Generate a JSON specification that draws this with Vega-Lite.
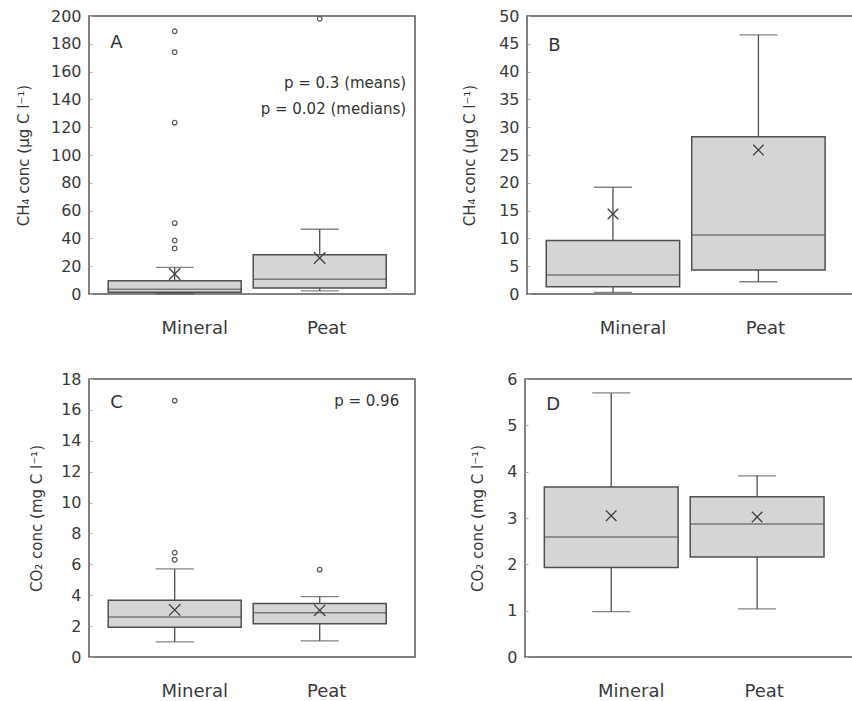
{
  "$schema": "https://vega.github.io/schema/vega-lite/v6.json",
  "padding": {"left": 15, "top": 7, "right": 0, "bottom": 0},
  "background": "white",
  "config": {
    "font": "DejaVu Sans",
    "view": {"stroke": "#585858", "strokeWidth": 1.5},
    "axis": {"domain": false, "grid": false, "labelColor": "#3a3a3a", "titleColor": "#3a3a3a", "titleFontWeight": "normal", "labelFont": "DejaVu Sans", "titleFont": "DejaVu Sans"},
    "axisY": {"labelFontSize": 16, "titleFontSize": 15, "tickSize": -3, "tickColor": "#b0b0b0", "labelPadding": 11, "labelOverlap": false, "labelAlign": "right"},
    "axisX": {"labelFontSize": 18, "ticks": false, "labelPadding": 25, "labelAngle": 0, "labelOffset": {"condition": {"test": "datum.value === 'Mineral'", "value": 20}, "value": 7}},
    "text": {"font": "DejaVu Sans", "color": "#333333"}
  },
  "datasets": {
    "boxes": [
      {"gas": "CH4", "group": "Mineral", "lower": 0.3, "q1": 1.3, "median": 3.4, "q3": 9.6, "upper": 19.2, "mean": 14.4},
      {"gas": "CH4", "group": "Peat", "lower": 2.2, "q1": 4.3, "median": 10.6, "q3": 28.3, "upper": 46.6, "mean": 25.9},
      {"gas": "CO2", "group": "Mineral", "lower": 0.98, "q1": 1.93, "median": 2.59, "q3": 3.67, "upper": 5.7, "mean": 3.05},
      {"gas": "CO2", "group": "Peat", "lower": 1.04, "q1": 2.16, "median": 2.87, "q3": 3.46, "upper": 3.91, "mean": 3.02}
    ],
    "outliers": [
      {"gas": "CH4", "group": "Mineral", "value": 189},
      {"gas": "CH4", "group": "Mineral", "value": 174},
      {"gas": "CH4", "group": "Mineral", "value": 123.3},
      {"gas": "CH4", "group": "Mineral", "value": 51},
      {"gas": "CH4", "group": "Mineral", "value": 38.5},
      {"gas": "CH4", "group": "Mineral", "value": 32.8},
      {"gas": "CH4", "group": "Peat", "value": 198},
      {"gas": "CO2", "group": "Mineral", "value": 16.6},
      {"gas": "CO2", "group": "Mineral", "value": 6.75},
      {"gas": "CO2", "group": "Mineral", "value": 6.3},
      {"gas": "CO2", "group": "Peat", "value": 5.66}
    ],
    "notes": [
      {"panel": "A", "kind": "letter", "text": "A"},
      {"panel": "A", "kind": "p", "text": ["p = 0.3 (means)", "p = 0.02 (medians)"]},
      {"panel": "B", "kind": "letter", "text": "B"},
      {"panel": "C", "kind": "letter", "text": "C"},
      {"panel": "C", "kind": "p", "text": "p = 0.96"},
      {"panel": "D", "kind": "letter", "text": "D"}
    ]
  },
  "vconcat": [
    {
      "hconcat": [
        {
          "width": 326, "height": 278,
          "layer": [
            {"data": {"name": "boxes"}, "transform": [{"filter": "datum.gas === 'CH4'"}],
             "mark": {"type": "rule", "stroke": "#505050", "strokeWidth": 1.3},
             "encoding": {
               "x": {"field": "group", "type": "nominal", "title": null, "scale": {"domain": ["Mineral", "Peat"], "paddingInner": 0.083, "paddingOuter": 0.1655, "align": 0.4}},
               "y": {"field": "lower", "type": "quantitative", "scale": {"domain": [0, 200], "nice": false}, "axis": {"title": "CH₄ conc (µg C l⁻¹)", "values": [0, 20, 40, 60, 80, 100, 120, 140, 160, 180, 200], "tickCount": 50, "format": "d", "labelOverlap": false, "titlePadding": 19}},
               "y2": {"field": "upper"}}},
            {"data": {"name": "boxes"}, "transform": [{"filter": "datum.gas === 'CH4'"}],
             "mark": {"type": "bar", "fill": "#d4d5d7", "stroke": "#505050", "strokeWidth": 1.5},
             "encoding": {"x": {"field": "group", "type": "nominal"}, "y": {"field": "q1", "type": "quantitative"}, "y2": {"field": "q3"}}},
            {"data": {"name": "boxes"}, "transform": [{"filter": "datum.gas === 'CH4'"}],
             "mark": {"type": "tick", "color": "#505050", "size": 133, "thickness": 1.5, "orient": "horizontal"},
             "encoding": {"x": {"field": "group", "type": "nominal"}, "y": {"field": "median", "type": "quantitative"}}},
            {"data": {"name": "boxes"}, "transform": [{"filter": "datum.gas === 'CH4'"}],
             "mark": {"type": "tick", "color": "#505050", "size": 38, "thickness": 1.3, "orient": "horizontal"},
             "encoding": {"x": {"field": "group", "type": "nominal"}, "y": {"field": "lower", "type": "quantitative"}}},
            {"data": {"name": "boxes"}, "transform": [{"filter": "datum.gas === 'CH4'"}],
             "mark": {"type": "tick", "color": "#505050", "size": 38, "thickness": 1.3, "orient": "horizontal"},
             "encoding": {"x": {"field": "group", "type": "nominal"}, "y": {"field": "upper", "type": "quantitative"}}},
            {"data": {"name": "boxes"}, "transform": [{"filter": "datum.gas === 'CH4'"}],
             "mark": {"type": "point", "shape": "M-1,-1L1,1M-1,1L1,-1", "size": 130, "filled": false, "stroke": "#404040", "strokeWidth": 1.3, "opacity": 1},
             "encoding": {"x": {"field": "group", "type": "nominal"}, "y": {"field": "mean", "type": "quantitative"}}},
            {"data": {"name": "outliers"}, "transform": [{"filter": "datum.gas === 'CH4'"}],
             "mark": {"type": "point", "shape": "circle", "size": 22, "filled": false, "stroke": "#555555", "strokeWidth": 1.2, "opacity": 1},
             "encoding": {"x": {"field": "group", "type": "nominal"}, "y": {"field": "value", "type": "quantitative"}}},
            {"data": {"name": "notes"}, "transform": [{"filter": "datum.panel === 'A' && datum.kind === 'letter'"}],
             "mark": {"type": "text", "align": "left", "baseline": "top", "fontSize": 18, "dx": 2},
             "encoding": {"x": {"datum": "Mineral", "bandPosition": 0}, "y": {"datum": 187}, "text": {"field": "text"}}},
            {"data": {"name": "notes"}, "transform": [{"filter": "datum.panel === 'A' && datum.kind === 'p'"}],
             "mark": {"type": "text", "align": "right", "baseline": "top", "fontSize": 15, "lineHeight": 26, "dx": 20},
             "encoding": {"x": {"datum": "Peat", "bandPosition": 1}, "y": {"datum": 156.5}, "text": {"field": "text"}}}
          ]
        },
        {
          "width": 327, "height": 278,
          "layer": [
            {"data": {"name": "boxes"}, "transform": [{"filter": "datum.gas === 'CH4'"}],
             "mark": {"type": "rule", "stroke": "#505050", "strokeWidth": 1.3},
             "encoding": {
               "x": {"field": "group", "type": "nominal", "title": null, "scale": {"domain": ["Mineral", "Peat"], "paddingInner": 0.083, "paddingOuter": 0.1655, "align": 0.4}},
               "y": {"field": "lower", "type": "quantitative", "scale": {"domain": [0, 50], "nice": false}, "axis": {"title": "CH₄ conc (µg C l⁻¹)", "values": [0, 5, 10, 15, 20, 25, 30, 35, 40, 45, 50], "tickCount": 50, "format": "d", "labelOverlap": false, "titlePadding": 21}},
               "y2": {"field": "upper"}}},
            {"data": {"name": "boxes"}, "transform": [{"filter": "datum.gas === 'CH4'"}],
             "mark": {"type": "bar", "fill": "#d4d5d7", "stroke": "#505050", "strokeWidth": 1.5},
             "encoding": {"x": {"field": "group", "type": "nominal"}, "y": {"field": "q1", "type": "quantitative"}, "y2": {"field": "q3"}}},
            {"data": {"name": "boxes"}, "transform": [{"filter": "datum.gas === 'CH4'"}],
             "mark": {"type": "tick", "color": "#505050", "size": 133, "thickness": 1.5, "orient": "horizontal"},
             "encoding": {"x": {"field": "group", "type": "nominal"}, "y": {"field": "median", "type": "quantitative"}}},
            {"data": {"name": "boxes"}, "transform": [{"filter": "datum.gas === 'CH4'"}],
             "mark": {"type": "tick", "color": "#505050", "size": 38, "thickness": 1.3, "orient": "horizontal"},
             "encoding": {"x": {"field": "group", "type": "nominal"}, "y": {"field": "lower", "type": "quantitative"}}},
            {"data": {"name": "boxes"}, "transform": [{"filter": "datum.gas === 'CH4'"}],
             "mark": {"type": "tick", "color": "#505050", "size": 38, "thickness": 1.3, "orient": "horizontal"},
             "encoding": {"x": {"field": "group", "type": "nominal"}, "y": {"field": "upper", "type": "quantitative"}}},
            {"data": {"name": "boxes"}, "transform": [{"filter": "datum.gas === 'CH4'"}],
             "mark": {"type": "point", "shape": "M-1,-1L1,1M-1,1L1,-1", "size": 110, "filled": false, "stroke": "#404040", "strokeWidth": 1.3, "opacity": 1},
             "encoding": {"x": {"field": "group", "type": "nominal"}, "y": {"field": "mean", "type": "quantitative"}}},
            {"data": {"name": "notes"}, "transform": [{"filter": "datum.panel === 'B' && datum.kind === 'letter'"}],
             "mark": {"type": "text", "align": "left", "baseline": "top", "fontSize": 18, "dx": 2},
             "encoding": {"x": {"datum": "Mineral", "bandPosition": 0}, "y": {"datum": 46.2}, "text": {"field": "text"}}}
          ]
        }
      ],
      "spacing": 45
    },
    {
      "hconcat": [
        {
          "width": 326, "height": 278,
          "layer": [
            {"data": {"name": "boxes"}, "transform": [{"filter": "datum.gas === 'CO2'"}],
             "mark": {"type": "rule", "stroke": "#505050", "strokeWidth": 1.3},
             "encoding": {
               "x": {"field": "group", "type": "nominal", "title": null, "scale": {"domain": ["Mineral", "Peat"], "paddingInner": 0.083, "paddingOuter": 0.1655, "align": 0.4}},
               "y": {"field": "lower", "type": "quantitative", "scale": {"domain": [0, 18], "nice": false}, "axis": {"title": "CO₂ conc (mg C l⁻¹)", "values": [0, 2, 4, 6, 8, 10, 12, 14, 16, 18], "tickCount": 50, "format": "d", "labelOverlap": false, "titlePadding": 16}},
               "y2": {"field": "upper"}}},
            {"data": {"name": "boxes"}, "transform": [{"filter": "datum.gas === 'CO2'"}],
             "mark": {"type": "bar", "fill": "#d4d5d7", "stroke": "#505050", "strokeWidth": 1.5},
             "encoding": {"x": {"field": "group", "type": "nominal"}, "y": {"field": "q1", "type": "quantitative"}, "y2": {"field": "q3"}}},
            {"data": {"name": "boxes"}, "transform": [{"filter": "datum.gas === 'CO2'"}],
             "mark": {"type": "tick", "color": "#505050", "size": 133, "thickness": 1.5, "orient": "horizontal"},
             "encoding": {"x": {"field": "group", "type": "nominal"}, "y": {"field": "median", "type": "quantitative"}}},
            {"data": {"name": "boxes"}, "transform": [{"filter": "datum.gas === 'CO2'"}],
             "mark": {"type": "tick", "color": "#505050", "size": 38, "thickness": 1.3, "orient": "horizontal"},
             "encoding": {"x": {"field": "group", "type": "nominal"}, "y": {"field": "lower", "type": "quantitative"}}},
            {"data": {"name": "boxes"}, "transform": [{"filter": "datum.gas === 'CO2'"}],
             "mark": {"type": "tick", "color": "#505050", "size": 38, "thickness": 1.3, "orient": "horizontal"},
             "encoding": {"x": {"field": "group", "type": "nominal"}, "y": {"field": "upper", "type": "quantitative"}}},
            {"data": {"name": "boxes"}, "transform": [{"filter": "datum.gas === 'CO2'"}],
             "mark": {"type": "point", "shape": "M-1,-1L1,1M-1,1L1,-1", "size": 130, "filled": false, "stroke": "#404040", "strokeWidth": 1.3, "opacity": 1},
             "encoding": {"x": {"field": "group", "type": "nominal"}, "y": {"field": "mean", "type": "quantitative"}}},
            {"data": {"name": "outliers"}, "transform": [{"filter": "datum.gas === 'CO2'"}],
             "mark": {"type": "point", "shape": "circle", "size": 22, "filled": false, "stroke": "#555555", "strokeWidth": 1.2, "opacity": 1},
             "encoding": {"x": {"field": "group", "type": "nominal"}, "y": {"field": "value", "type": "quantitative"}}},
            {"data": {"name": "notes"}, "transform": [{"filter": "datum.panel === 'C' && datum.kind === 'letter'"}],
             "mark": {"type": "text", "align": "left", "baseline": "top", "fontSize": 18, "dx": 2},
             "encoding": {"x": {"datum": "Mineral", "bandPosition": 0}, "y": {"datum": 17.0}, "text": {"field": "text"}}},
            {"data": {"name": "notes"}, "transform": [{"filter": "datum.panel === 'C' && datum.kind === 'p'"}],
             "mark": {"type": "text", "align": "right", "baseline": "top", "fontSize": 15, "dx": 13},
             "encoding": {"x": {"datum": "Peat", "bandPosition": 1}, "y": {"datum": 17.0}, "text": {"field": "text"}}}
          ]
        },
        {
          "width": 328, "height": 278,
          "layer": [
            {"data": {"name": "boxes"}, "transform": [{"filter": "datum.gas === 'CO2'"}],
             "mark": {"type": "rule", "stroke": "#505050", "strokeWidth": 1.3},
             "encoding": {
               "x": {"field": "group", "type": "nominal", "title": null, "scale": {"domain": ["Mineral", "Peat"], "paddingInner": 0.083, "paddingOuter": 0.1655, "align": 0.4}},
               "y": {"field": "lower", "type": "quantitative", "scale": {"domain": [0, 6], "nice": false}, "axis": {"title": "CO₂ conc (mg C l⁻¹)", "values": [0, 1, 2, 3, 4, 5, 6], "tickCount": 50, "format": "d", "labelOverlap": false, "titlePadding": 21}},
               "y2": {"field": "upper"}}},
            {"data": {"name": "boxes"}, "transform": [{"filter": "datum.gas === 'CO2'"}],
             "mark": {"type": "bar", "fill": "#d4d5d7", "stroke": "#505050", "strokeWidth": 1.5},
             "encoding": {"x": {"field": "group", "type": "nominal"}, "y": {"field": "q1", "type": "quantitative"}, "y2": {"field": "q3"}}},
            {"data": {"name": "boxes"}, "transform": [{"filter": "datum.gas === 'CO2'"}],
             "mark": {"type": "tick", "color": "#505050", "size": 133, "thickness": 1.5, "orient": "horizontal"},
             "encoding": {"x": {"field": "group", "type": "nominal"}, "y": {"field": "median", "type": "quantitative"}}},
            {"data": {"name": "boxes"}, "transform": [{"filter": "datum.gas === 'CO2'"}],
             "mark": {"type": "tick", "color": "#505050", "size": 38, "thickness": 1.3, "orient": "horizontal"},
             "encoding": {"x": {"field": "group", "type": "nominal"}, "y": {"field": "lower", "type": "quantitative"}}},
            {"data": {"name": "boxes"}, "transform": [{"filter": "datum.gas === 'CO2'"}],
             "mark": {"type": "tick", "color": "#505050", "size": 38, "thickness": 1.3, "orient": "horizontal"},
             "encoding": {"x": {"field": "group", "type": "nominal"}, "y": {"field": "upper", "type": "quantitative"}}},
            {"data": {"name": "boxes"}, "transform": [{"filter": "datum.gas === 'CO2'"}],
             "mark": {"type": "point", "shape": "M-1,-1L1,1M-1,1L1,-1", "size": 110, "filled": false, "stroke": "#404040", "strokeWidth": 1.3, "opacity": 1},
             "encoding": {"x": {"field": "group", "type": "nominal"}, "y": {"field": "mean", "type": "quantitative"}}},
            {"data": {"name": "notes"}, "transform": [{"filter": "datum.panel === 'D' && datum.kind === 'letter'"}],
             "mark": {"type": "text", "align": "left", "baseline": "top", "fontSize": 18, "dx": 2},
             "encoding": {"x": {"datum": "Mineral", "bandPosition": 0}, "y": {"datum": 5.64}, "text": {"field": "text"}}}
          ]
        }
      ],
      "spacing": 54
    }
  ],
  "spacing": 32
}
